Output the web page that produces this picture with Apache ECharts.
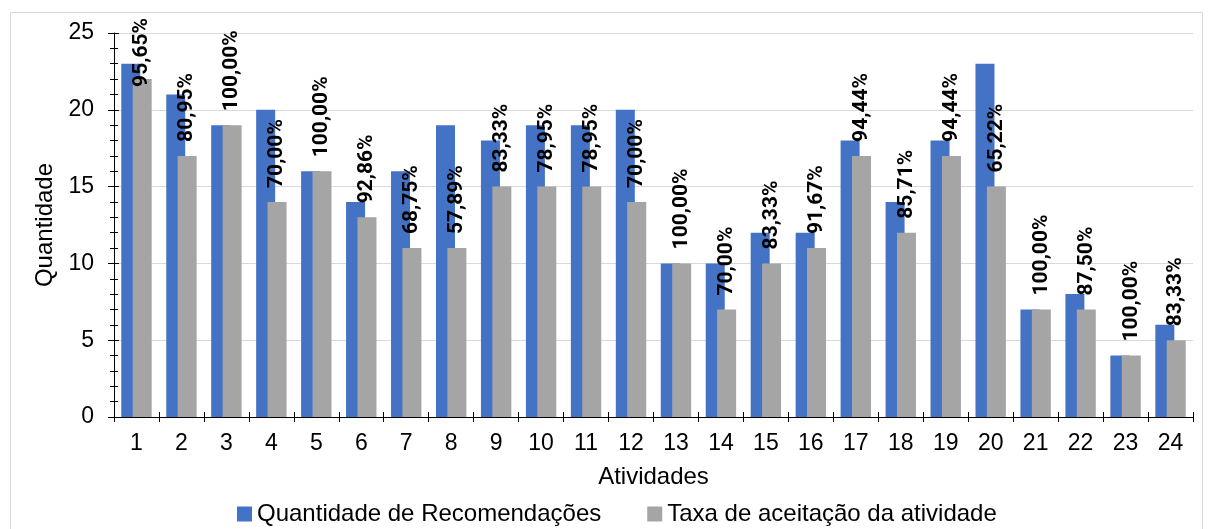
<!DOCTYPE html>
<html>
<head>
<meta charset="utf-8">
<script src="https://cdn.jsdelivr.net/npm/echarts@6/dist/echarts.min.js"></script>
<style>
  html, body { margin: 0; padding: 0; background: #fff; }
  #chart { width: 1208px; height: 529px; }
</style>
</head>
<body>
<div id="chart"></div>
<script>
// Atividades (eixo X)
const atividades = ['1','2','3','4','5','6','7','8','9','10','11','12','13','14','15','16','17','18','19','20','21','22','23','24'];
// Número de recomendações por atividade
const recomendacoes = [23, 21, 19, 20, 16, 14, 16, 19, 18, 19, 19, 20, 10, 10, 12, 12, 18, 14, 18, 23, 7, 8, 4, 6];
// Número de recomendações aceitas por atividade
const aceitas = [22, 17, 19, 14, 16, 13, 11, 11, 15, 15, 15, 14, 10, 7, 10, 11, 17, 12, 17, 15, 7, 7, 4, 5];
// Marcas do eixo Y
const yTicks = [0, 5, 10, 15, 20, 25];

const serieNomes = ['Quantidade de Recomendações', 'Taxa de aceitação da atividade'];

// Taxa de aceitação (aceitas / recomendadas) em formato pt-BR
function taxa(i) {
  return (aceitas[i] / recomendacoes[i] * 100).toFixed(2).replace('.', ',') + '%';
}

const FONT = '"Liberation Sans", Arial, sans-serif';
const FONT_ROTULO = 'Roboto, "Liberation Sans", Arial, sans-serif';
const ROTULO_TAM = 21;
const ROTULO_DIST = 14;
const TOPO_LIMITE = 18;

const chart = echarts.init(document.getElementById('chart'), null, { renderer: 'canvas' });

const yMax = yTicks[yTicks.length - 1];
const yStep = yTicks[1] - yTicks[0];

chart.setOption({
  animation: false,
  backgroundColor: '#ffffff',
  textStyle: { fontFamily: FONT },
  graphic: [{
    type: 'rect',
    left: 8, top: 10,
    shape: { width: 1192, height: 530 },
    style: { fill: 'none', stroke: '#d9d9d9', lineWidth: 1 },
    silent: true, z: -1
  }],
  grid: { left: 114, right: 15, top: 33, bottom: 112 },
  legend: {
    left: 232, top: 497,
    icon: 'rect', itemWidth: 15, itemHeight: 15, itemGap: 46,
    textStyle: { fontSize: 24, color: '#000', fontFamily: FONT },
    data: serieNomes
  },
  xAxis: [{
    type: 'category',
    data: atividades,
    name: 'Atividades',
    nameLocation: 'middle',
    nameGap: 48,
    nameTextStyle: { fontSize: 24, color: '#000', fontFamily: FONT },
    axisLine: { lineStyle: { color: '#000', width: 1 } },
    axisTick: { show: true, length: 5, lineStyle: { color: '#000' } },
    axisLabel: { fontSize: 23, color: '#000', margin: 15, fontFamily: FONT },
    splitLine: { show: false }
  }, {
    // marcas internas para que os traços cruzem o eixo
    type: 'category',
    data: atividades,
    position: 'bottom',
    axisLine: { show: false },
    axisTick: { show: true, inside: true, length: 5, lineStyle: { color: '#000' } },
    axisLabel: { show: false },
    splitLine: { show: false }
  }],
  yAxis: [{
    type: 'value',
    min: 0, max: yMax, interval: yStep,
    name: 'Quantidade',
    nameLocation: 'middle',
    nameGap: 55,
    nameTextStyle: { fontSize: 24, color: '#000', fontFamily: FONT },
    axisLine: { show: true, lineStyle: { color: '#000', width: 1 } },
    axisTick: { show: true, length: 6, lineStyle: { color: '#000' } },
    minorTick: { show: true, splitNumber: 5, length: 4, lineStyle: { color: '#000' } },
    axisLabel: { fontSize: 23, color: '#000', margin: 20, fontFamily: FONT },
    splitLine: { show: true, lineStyle: { color: '#d9d9d9', width: 1 } }
  }, {
    type: 'value',
    min: 0, max: yMax, interval: yStep,
    position: 'left',
    axisLine: { show: false },
    axisTick: { show: true, inside: true, length: 5, lineStyle: { color: '#000' } },
    minorTick: { show: true, splitNumber: 5, length: 4, lineStyle: { color: '#000' } },
    axisLabel: { show: false },
    splitLine: { show: false }
  }],
  series: [{
    name: serieNomes[0],
    type: 'bar',
    data: recomendacoes,
    barWidth: 19,
    barGap: '-40%',
    itemStyle: { color: '#4472C4' }
  }, {
    name: serieNomes[1],
    type: 'bar',
    data: aceitas,
    barWidth: 19,
    itemStyle: { color: '#A5A5A5' },
    label: {
      show: true,
      position: 'top',
      distance: ROTULO_DIST,
      rotate: 90,
      align: 'left',
      verticalAlign: 'middle',
      fontSize: ROTULO_TAM,
      fontWeight: 'bold',
      color: '#000',
      fontFamily: FONT_ROTULO,
      formatter: p => taxa(p.dataIndex)
    }
  }]
});

// Rótulos que ultrapassariam o topo do gráfico são deslocados para baixo
const medidor = document.createElement('canvas').getContext('2d');
medidor.font = 'bold ' + ROTULO_TAM + 'px ' + FONT_ROTULO;
const dadosAceitas = aceitas.map((v, i) => {
  const yBarra = chart.convertToPixel({ yAxisIndex: 0 }, v);
  const comprimento = medidor.measureText(taxa(i)).width;
  const topo = yBarra - ROTULO_DIST - comprimento;
  if (topo < TOPO_LIMITE) {
    return { value: v, label: { distance: yBarra - TOPO_LIMITE - comprimento } };
  }
  return v;
});
chart.setOption({ series: [{}, { data: dadosAceitas }] });
</script>
</body>
</html>
